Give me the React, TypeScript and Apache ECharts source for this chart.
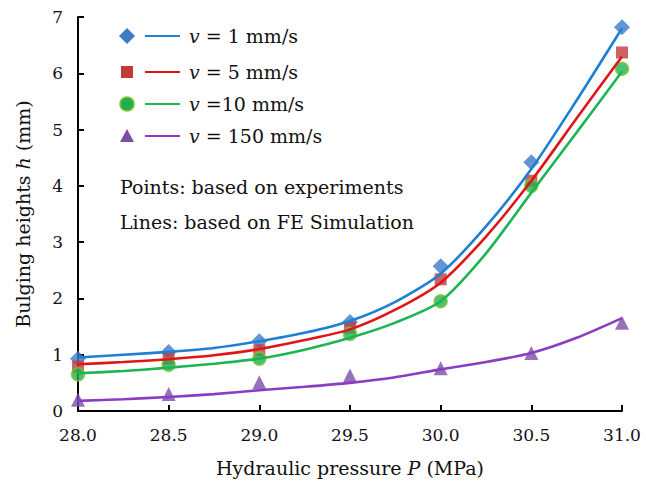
import React, { useEffect, useRef } from "react";
import * as echarts from "echarts";

const pressures = [28.0, 28.5, 29.0, 29.5, 30.0, 30.5, 31.0];

// experimental points
const expV1 = [0.93, 1.05, 1.24, 1.58, 2.57, 4.42, 6.82];
const expV5 = [0.79, 0.93, 1.08, 1.48, 2.34, 4.09, 6.37];
const expV10 = [0.65, 0.82, 0.93, 1.37, 1.95, 4.0, 6.08];
const expV150 = [0.2, 0.3, 0.51, 0.63, 0.76, 1.03, 1.57];

// FE simulation curves (every 0.25 MPa)
const simX = [28.0, 28.25, 28.5, 28.75, 29.0, 29.25, 29.5, 29.75, 30.0, 30.25, 30.5, 30.75, 31.0];
const simV1 = [0.95, 1.0, 1.05, 1.12, 1.24, 1.39, 1.6, 1.94, 2.44, 3.28, 4.3, 5.52, 6.8];
const simV5 = [0.83, 0.87, 0.92, 0.99, 1.1, 1.26, 1.45, 1.8, 2.28, 3.1, 4.09, 5.2, 6.3];
const simV10 = [0.67, 0.71, 0.77, 0.84, 0.93, 1.09, 1.3, 1.57, 1.95, 2.8, 3.88, 4.95, 6.03];
const simV150 = [0.18, 0.21, 0.25, 0.3, 0.37, 0.43, 0.5, 0.6, 0.74, 0.87, 1.03, 1.3, 1.65];

const legendLabels = [" = 1 mm/s", " = 5 mm/s", " =10 mm/s", " = 150 mm/s"];
const noteLines = ["Points: based on experiments", "Lines: based on FE Simulation"];

const FONT = "DejaVu Serif";

const markerColors = ["#3b7bc8", "#c23b3b", "#1fb14f", "#7a4fa8"];
const lineColors = ["#1f7fd4", "#e01616", "#1cb554", "#8a3cc4"];

const pair = (xs: number[], ys: number[]) => xs.map((x, i) => [x, ys[i]]);

export default function App() {
  const ref = useRef<HTMLDivElement>(null);
  useEffect(() => {
    if (!ref.current) return;
    const chart = echarts.init(ref.current, undefined, { renderer: "svg" });

    const scatter = (name: string, ys: number[], symbol: string, size: number, idx: number, border?: string) => ({
      name,
      type: "scatter",
      data: pair(pressures, ys),
      symbol,
      symbolSize: size,
      z: 2,
      itemStyle: {
        color: markerColors[idx],
        borderColor: border || markerColors[idx],
        borderWidth: border ? 1.5 : 0,
      },
    });
    const line = (name: string, xs: number[], ys: number[], idx: number) => ({
      name,
      type: "line",
      data: pair(xs, ys),
      smooth: 0.25,
      showSymbol: false,
      symbol: "none",
      z: 3,
      lineStyle: { color: lineColors[idx], width: 2.6 },
    });

    const rowsY = [36, 72, 104, 136];
    const mx = 127;
    const legendChildren: any[] = [];
    rowsY.forEach((y, i) => {
      if (i === 0) {
        legendChildren.push({ type: "polygon", shape: { points: [[mx, y - 8], [mx + 8, y], [mx, y + 8], [mx - 8, y]] }, style: { fill: markerColors[0] } });
      } else if (i === 1) {
        legendChildren.push({ type: "rect", shape: { x: mx - 6, y: y - 6, width: 12, height: 12 }, style: { fill: markerColors[1] } });
      } else if (i === 2) {
        legendChildren.push({ type: "circle", shape: { cx: mx, cy: y, r: 7 }, style: { fill: markerColors[2], stroke: "#8fc23a", lineWidth: 1.5 } });
      } else {
        legendChildren.push({ type: "polygon", shape: { points: [[mx, y - 7], [mx + 7, y + 6], [mx - 7, y + 6]] }, style: { fill: markerColors[3] } });
      }
      legendChildren.push({ type: "line", shape: { x1: 145, y1: y, x2: 180, y2: y }, style: { stroke: lineColors[i], lineWidth: 2.2 } });
      legendChildren.push({
        type: "text",
        x: 189,
        y: y,
        style: {
          text: "{i|v}{n|" + legendLabels[i] + "}",
          verticalAlign: "middle",
          fontFamily: FONT,
          fontSize: 19,
          fill: "#111",
          rich: {
            i: { fontStyle: "italic", fontFamily: FONT, fontSize: 19, fill: "#111" },
            n: { fontFamily: FONT, fontSize: 19, fill: "#111" },
          },
        },
      });
    });
    noteLines.forEach((t, i) => {
      legendChildren.push({
        type: "text",
        x: 120,
        y: 187 + i * 35,
        style: { text: t, verticalAlign: "middle", fontFamily: FONT, fontSize: 19, fill: "#111" },
      });
    });

    chart.setOption({
      animation: false,
      backgroundColor: "#fff",
      textStyle: { fontFamily: FONT },
      grid: { left: 78, right: 24, top: 17, bottom: 71 },
      xAxis: {
        type: "value",
        min: 28,
        max: 31,
        interval: 0.5,
        name: "{n|Hydraulic pressure }{i|P}{n| (MPa)}",
        nameLocation: "middle",
        nameGap: 47,
        nameTextStyle: {
          fontFamily: FONT,
          rich: {
            n: { fontFamily: FONT, fontSize: 19, color: "#111" },
            i: { fontFamily: FONT, fontSize: 19, fontStyle: "italic", color: "#111" },
          },
        },
        axisLine: { lineStyle: { color: "#000", width: 2 } },
        axisTick: { inside: true, length: 6, lineStyle: { color: "#000", width: 2 } },
        axisLabel: { fontFamily: FONT, fontSize: 17, color: "#111", margin: 15, formatter: (v: number) => v.toFixed(1) },
        splitLine: { show: false },
      },
      yAxis: {
        type: "value",
        min: 0,
        max: 7,
        interval: 1,
        name: "{n|Bulging heights }{i|h}{n| (mm)}",
        nameLocation: "middle",
        nameGap: 46,
        nameRotate: 90,
        nameTextStyle: {
          fontFamily: FONT,
          rich: {
            n: { fontFamily: FONT, fontSize: 19, color: "#111" },
            i: { fontFamily: FONT, fontSize: 19, fontStyle: "italic", color: "#111" },
          },
        },
        axisLine: { show: true, lineStyle: { color: "#000", width: 2 } },
        axisTick: { show: true, inside: true, length: 6, lineStyle: { color: "#000", width: 2 } },
        axisLabel: { fontFamily: FONT, fontSize: 17, color: "#111", margin: 15 },
        splitLine: { show: false },
      },
      graphic: [{ type: "group", children: legendChildren }],
      series: [
        scatter("v = 1 mm/s (exp)", expV1, "diamond", 16, 0),
        scatter("v = 5 mm/s (exp)", expV5, "rect", 12, 1),
        scatter("v = 10 mm/s (exp)", expV10, "circle", 13, 2, "#8fc23a"),
        scatter("v = 150 mm/s (exp)", expV150, "triangle", 14, 3),
        line("v = 1 mm/s (FE)", simX, simV1, 0),
        line("v = 5 mm/s (FE)", simX, simV5, 1),
        line("v = 10 mm/s (FE)", simX, simV10, 2),
        line("v = 150 mm/s (FE)", simX, simV150, 3),
      ],
    });
    return () => chart.dispose();
  }, []);
  return <div ref={ref} style={{ width: 646, height: 482, position: "absolute", left: 0, top: 0 }} />;
}
